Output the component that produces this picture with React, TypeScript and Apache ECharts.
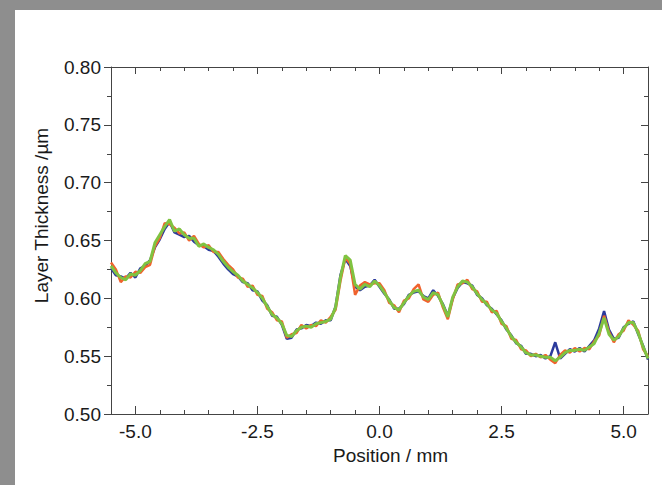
import React, { useEffect, useRef } from "react";
import * as echarts from "echarts";

const positions = [
  -5.5, -5.4, -5.3, -5.2, -5.1, -5.0, -4.9, -4.8, -4.7, -4.6, -4.5, -4.4, -4.3, -4.2, -4.1, -4.0,
  -3.9, -3.8, -3.7, -3.6, -3.5, -3.4, -3.3, -3.2, -3.1, -3.0, -2.9, -2.8, -2.7, -2.6, -2.5, -2.4,
  -2.3, -2.2, -2.1, -2.0, -1.9, -1.8, -1.7, -1.6, -1.5, -1.4, -1.3, -1.2, -1.1, -1.0, -0.9, -0.8,
  -0.7, -0.6, -0.5, -0.4, -0.3, -0.2, -0.1, 0.0, 0.1, 0.2, 0.3, 0.4, 0.5, 0.6, 0.7, 0.8,
  0.9, 1.0, 1.1, 1.2, 1.3, 1.4, 1.5, 1.6, 1.7, 1.8, 1.9, 2.0, 2.1, 2.2, 2.3, 2.4,
  2.5, 2.6, 2.7, 2.8, 2.9, 3.0, 3.1, 3.2, 3.3, 3.4, 3.5, 3.6, 3.7, 3.8, 3.9, 4.0,
  4.1, 4.2, 4.3, 4.4, 4.5, 4.6, 4.7, 4.8, 4.9, 5.0, 5.1, 5.2, 5.3, 5.4, 5.5,
];

const scanBlue = [
  0.626, 0.620, 0.619, 0.617, 0.622, 0.618, 0.626, 0.628, 0.633, 0.644, 0.651, 0.660, 0.666, 0.657, 0.655, 0.653,
  0.654, 0.649, 0.646, 0.645, 0.642, 0.641, 0.636, 0.630, 0.625, 0.621, 0.619, 0.614, 0.613, 0.607, 0.606, 0.598,
  0.594, 0.585, 0.584, 0.577, 0.565, 0.566, 0.573, 0.574, 0.577, 0.576, 0.579, 0.578, 0.581, 0.581, 0.593, 0.620,
  0.634, 0.628, 0.610, 0.607, 0.610, 0.611, 0.616, 0.610, 0.604, 0.599, 0.591, 0.591, 0.595, 0.603, 0.605, 0.606,
  0.602, 0.600, 0.607, 0.602, 0.595, 0.585, 0.600, 0.609, 0.614, 0.613, 0.611, 0.603, 0.600, 0.594, 0.591, 0.586,
  0.581, 0.573, 0.568, 0.561, 0.559, 0.552, 0.552, 0.550, 0.551, 0.548, 0.550, 0.562, 0.548, 0.552, 0.556, 0.554,
  0.557, 0.554, 0.559, 0.564, 0.574, 0.589, 0.573, 0.565, 0.566, 0.575, 0.578, 0.580, 0.569, 0.559, 0.547,
];

const scanOrange = [
  0.631, 0.625, 0.614, 0.619, 0.618, 0.623, 0.622, 0.627, 0.629, 0.645, 0.652, 0.665, 0.664, 0.661, 0.656, 0.657,
  0.650, 0.654, 0.647, 0.644, 0.646, 0.640, 0.640, 0.634, 0.629, 0.625, 0.618, 0.617, 0.610, 0.611, 0.603, 0.602,
  0.591, 0.588, 0.581, 0.580, 0.566, 0.569, 0.570, 0.577, 0.574, 0.577, 0.576, 0.581, 0.579, 0.584, 0.590, 0.615,
  0.635, 0.630, 0.603, 0.611, 0.614, 0.612, 0.613, 0.613, 0.607, 0.596, 0.594, 0.588, 0.598, 0.600, 0.608, 0.612,
  0.599, 0.597, 0.603, 0.605, 0.592, 0.582, 0.599, 0.612, 0.613, 0.616, 0.608, 0.606, 0.597, 0.597, 0.588, 0.589,
  0.578, 0.576, 0.565, 0.564, 0.556, 0.555, 0.550, 0.552, 0.549, 0.551, 0.547, 0.544, 0.551, 0.555, 0.553, 0.557,
  0.554, 0.557, 0.556, 0.563, 0.568, 0.585, 0.571, 0.562, 0.569, 0.572, 0.581, 0.577, 0.572, 0.556, 0.550,
];

const scanGreen = [
  0.628, 0.622, 0.618, 0.616, 0.621, 0.620, 0.624, 0.630, 0.632, 0.648, 0.655, 0.662, 0.668, 0.658, 0.660, 0.655,
  0.652, 0.652, 0.645, 0.647, 0.644, 0.642, 0.638, 0.632, 0.627, 0.623, 0.620, 0.615, 0.612, 0.609, 0.605, 0.600,
  0.593, 0.586, 0.583, 0.578, 0.568, 0.567, 0.572, 0.575, 0.576, 0.575, 0.578, 0.579, 0.580, 0.582, 0.592, 0.618,
  0.637, 0.633, 0.612, 0.608, 0.612, 0.610, 0.615, 0.611, 0.605, 0.598, 0.592, 0.590, 0.596, 0.602, 0.606, 0.607,
  0.601, 0.599, 0.605, 0.603, 0.594, 0.584, 0.601, 0.610, 0.615, 0.614, 0.610, 0.604, 0.599, 0.595, 0.590, 0.587,
  0.580, 0.574, 0.567, 0.562, 0.558, 0.553, 0.551, 0.551, 0.550, 0.549, 0.549, 0.546, 0.549, 0.553, 0.555, 0.555,
  0.556, 0.555, 0.558, 0.561, 0.570, 0.583, 0.569, 0.564, 0.567, 0.574, 0.579, 0.579, 0.570, 0.558, 0.548,
];

const xMajorTicks = [-5.0, -2.5, 0.0, 2.5, 5.0];

const FONT = "'Liberation Sans', Arial, sans-serif";
const AXIS = "#444";
const TEXT = "#1a1a1a";

function pairs(ys: number[]) {
  return positions.map((x, i) => [x, ys[i]]);
}

export default function App() {
  const ref = useRef<HTMLDivElement>(null);

  useEffect(() => {
    if (!ref.current) return;
    const chart = echarts.init(ref.current, undefined, { renderer: "svg" });

    const baseX = {
      type: "value" as const,
      min: -5.5,
      max: 5.5,
      splitLine: { show: false },
    };
    const baseY = {
      type: "value" as const,
      min: 0.5,
      max: 0.8,
      interval: 0.05,
      splitLine: { show: false },
    };

    chart.setOption({
      animation: false,
      backgroundColor: "#ffffff",
      graphic: [
        { type: "rect", shape: { x: 0, y: 0, width: 662, height: 10 }, style: { fill: "#8e8e8e" }, silent: true },
        { type: "rect", shape: { x: 0, y: 0, width: 15, height: 485 }, style: { fill: "#8e8e8e" }, silent: true },
      ],
      grid: { left: 111, right: 14, top: 67, bottom: 71, containLabel: false },
      xAxis: [
        {
          ...baseX,
          position: "bottom",
          interval: 0.5,
          axisLine: { show: true, onZero: false, lineStyle: { color: AXIS, width: 1 } },
          axisTick: { show: true, inside: true, length: 4, lineStyle: { color: AXIS } },
          axisLabel: { show: false },
        },
        {
          ...baseX,
          position: "bottom",
          axisLine: { show: false, onZero: false },
          axisTick: { show: true, inside: true, length: 8, customValues: xMajorTicks, lineStyle: { color: AXIS } },
          axisLabel: {
            show: true,
            customValues: xMajorTicks,
            formatter: (v: number) => v.toFixed(1),
            color: TEXT,
            fontFamily: FONT,
            fontSize: 19,
            margin: 8,
          },
          name: "Position / mm",
          nameLocation: "middle",
          nameGap: 30,
          nameTextStyle: { color: TEXT, fontFamily: FONT, fontSize: 19, padding: [0, 0, 0, 22] },
        },
        {
          ...baseX,
          position: "top",
          interval: 0.5,
          axisLine: { show: true, onZero: false, lineStyle: { color: AXIS, width: 1 } },
          axisTick: { show: true, inside: true, length: 4, lineStyle: { color: AXIS } },
          axisLabel: { show: false },
        },
        {
          ...baseX,
          position: "top",
          axisLine: { show: false, onZero: false },
          axisTick: { show: true, inside: true, length: 7, customValues: xMajorTicks, lineStyle: { color: AXIS } },
          axisLabel: { show: false },
        },
      ],
      yAxis: [
        {
          ...baseY,
          position: "left",
          axisLine: { show: true, onZero: false, lineStyle: { color: AXIS, width: 1 } },
          axisTick: { show: true, inside: false, length: 7, lineStyle: { color: AXIS } },
          minorTick: { show: true, splitNumber: 2, length: 4, lineStyle: { color: AXIS } },
          axisLabel: {
            formatter: (v: number) => v.toFixed(2),
            color: TEXT,
            fontFamily: FONT,
            fontSize: 19,
            margin: 10,
          },
          name: "Layer Thickness /µm",
          nameLocation: "middle",
          nameGap: 60,
          nameTextStyle: { color: TEXT, fontFamily: FONT, fontSize: 19, padding: [0, 0, 0, 50] },
        },
        {
          ...baseY,
          position: "right",
          axisLine: { show: true, onZero: false, lineStyle: { color: AXIS, width: 1 } },
          axisTick: { show: true, inside: true, length: 7, lineStyle: { color: AXIS } },
          minorTick: { show: true, splitNumber: 2, length: 4, lineStyle: { color: AXIS } },
          axisLabel: { show: false },
        },
      ],
      series: [
        {
          name: "Scan 1",
          type: "line",
          xAxisIndex: 0,
          yAxisIndex: 0,
          data: pairs(scanBlue),
          showSymbol: false,
          lineStyle: { color: "#2b3a9c", width: 2.5 },
          itemStyle: { color: "#2b3a9c" },
        },
        {
          name: "Scan 2",
          type: "line",
          xAxisIndex: 0,
          yAxisIndex: 0,
          data: pairs(scanOrange),
          showSymbol: false,
          lineStyle: { color: "#f0622d", width: 2.5 },
          itemStyle: { color: "#f0622d" },
        },
        {
          name: "Scan 3",
          type: "line",
          xAxisIndex: 0,
          yAxisIndex: 0,
          data: pairs(scanGreen),
          showSymbol: false,
          lineStyle: { color: "#80c341", width: 3 },
          itemStyle: { color: "#80c341" },
        },
      ],
    });

    return () => chart.dispose();
  }, []);

  return (
    <div
      ref={ref}
      style={{ position: "absolute", left: 0, top: 0, width: 662, height: 485 }}
    />
  );
}
